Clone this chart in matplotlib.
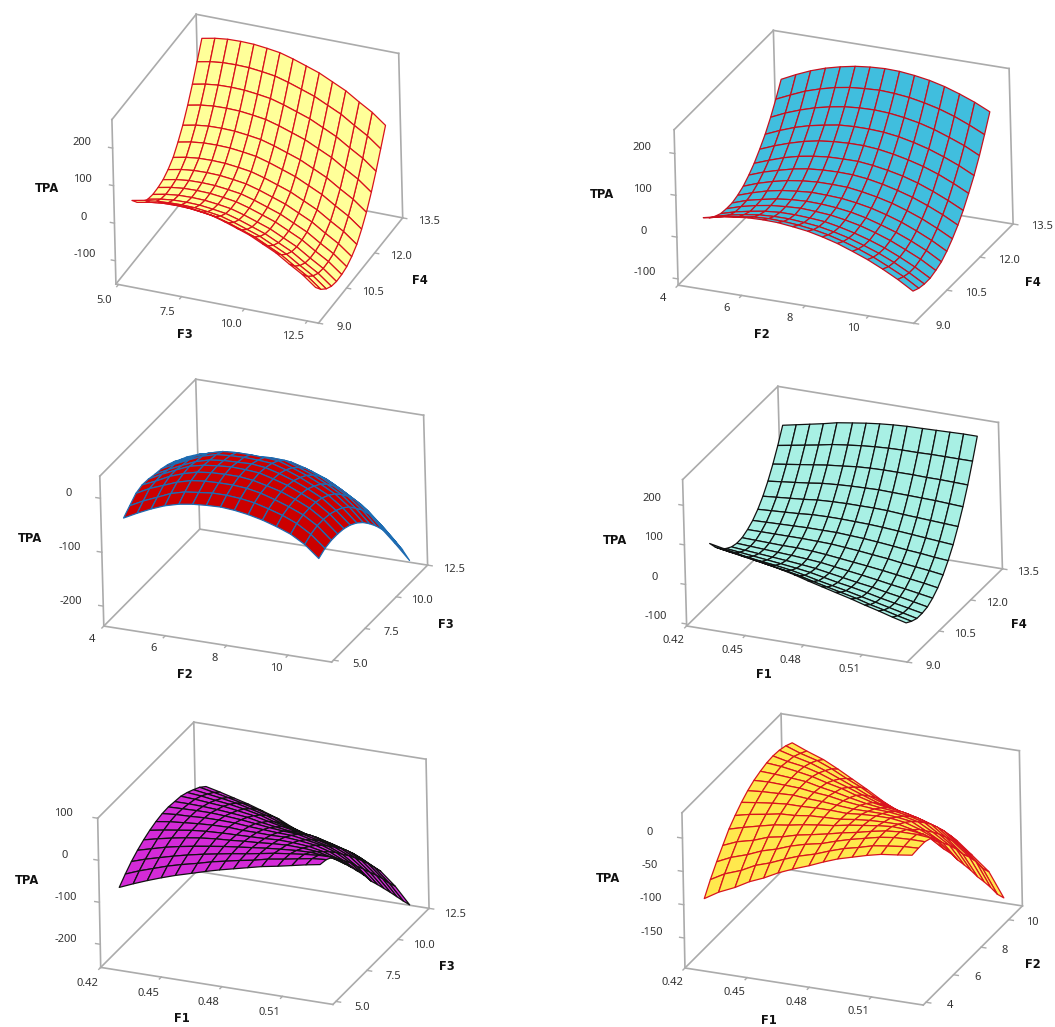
import numpy as np
import matplotlib
matplotlib.use('Agg')
import matplotlib.pyplot as plt
from mpl_toolkits.mplot3d import proj3d

plt.rcParams['font.family'] = ['Noto Sans', 'DejaVu Sans']

W, H = 1055, 1027

# Panel 1: TPA over F3 / F4
p1_x = [5.62, 6.14, 6.65, 7.17, 7.69, 8.21, 8.72, 9.24, 9.76, 10.27, 10.79, 11.31, 11.83, 12.34, 12.86]
p1_y = [9.00, 9.27, 9.55, 9.82, 10.09, 10.37, 10.64, 10.91, 11.19, 11.46, 11.73, 12.01, 12.28, 12.55, 12.83]
p1_z = [
    [70, 77, 81, 82, 81, 77, 72, 62, 50, 38, 21, 4, -19, -40, -68],
    [48, 55, 59, 60, 59, 55, 50, 40, 28, 16, -1, -18, -41, -62, -90],
    [32, 39, 43, 44, 43, 39, 34, 24, 12, 0, -17, -34, -57, -78, -106],
    [22, 29, 33, 34, 33, 29, 24, 14, 2, -10, -27, -44, -67, -88, -116],
    [18, 25, 29, 30, 29, 25, 20, 10, -2, -14, -31, -48, -71, -92, -120],
    [19, 26, 30, 31, 30, 26, 21, 11, -1, -13, -30, -47, -70, -91, -119],
    [23, 30, 34, 35, 34, 30, 25, 15, 3, -9, -26, -43, -66, -87, -115],
    [33, 40, 44, 45, 44, 40, 35, 25, 13, 1, -16, -33, -56, -77, -105],
    [48, 55, 59, 60, 59, 55, 50, 40, 28, 16, -1, -18, -41, -62, -90],
    [72, 79, 83, 84, 83, 79, 74, 64, 52, 40, 23, 6, -17, -38, -66],
    [100, 107, 111, 112, 111, 107, 102, 92, 80, 68, 51, 34, 11, -10, -38],
    [136, 143, 147, 148, 147, 143, 138, 128, 116, 104, 87, 70, 47, 26, -2],
    [175, 182, 186, 187, 186, 182, 177, 167, 155, 143, 126, 109, 86, 65, 37],
    [218, 225, 229, 230, 229, 225, 220, 210, 198, 186, 169, 152, 129, 108, 80],
    [263, 270, 274, 275, 274, 270, 265, 255, 243, 231, 214, 197, 174, 153, 125],
]

# Panel 2: TPA over F2 / F4
p2_x = [4.85, 5.32, 5.79, 6.26, 6.73, 7.20, 7.67, 8.14, 8.60, 9.07, 9.54, 10.01, 10.48, 10.95, 11.42]
p2_y = [9.00, 9.26, 9.51, 9.77, 10.03, 10.29, 10.54, 10.80, 11.06, 11.31, 11.57, 11.83, 12.09, 12.34, 12.60]
p2_z = [
    [57, 65, 70, 74, 75, 74, 70, 65, 57, 47, 34, 20, 3, -16, -38],
    [43, 52, 57, 62, 64, 63, 60, 55, 48, 38, 26, 12, -5, -23, -45],
    [33, 42, 49, 54, 56, 56, 53, 49, 42, 33, 21, 8, -8, -27, -48],
    [26, 36, 43, 49, 52, 52, 50, 47, 40, 31, 20, 7, -9, -27, -48],
    [24, 35, 43, 49, 52, 54, 52, 49, 43, 35, 24, 11, -5, -22, -43],
    [24, 36, 44, 51, 55, 57, 56, 53, 48, 40, 29, 17, 2, -15, -36],
    [29, 41, 51, 58, 62, 65, 64, 62, 57, 50, 40, 28, 13, -4, -24],
    [37, 50, 60, 68, 73, 76, 76, 75, 70, 63, 54, 42, 28, 11, -8],
    [50, 63, 73, 82, 88, 91, 92, 91, 87, 80, 71, 60, 46, 30, 11],
    [65, 78, 90, 99, 105, 109, 110, 110, 106, 100, 92, 81, 67, 51, 33],
    [85, 99, 111, 121, 128, 132, 134, 134, 131, 125, 117, 107, 94, 78, 60],
    [107, 122, 135, 145, 152, 158, 160, 160, 158, 153, 145, 135, 122, 107, 89],
    [134, 150, 163, 174, 182, 188, 191, 192, 190, 185, 178, 168, 155, 141, 123],
    [164, 180, 195, 206, 215, 221, 224, 226, 224, 220, 213, 204, 192, 177, 160],
    [198, 215, 230, 242, 251, 258, 262, 264, 263, 259, 253, 244, 232, 218, 201],
]

# Panel 3: TPA over F2 / F3
p3_x = [4.74, 5.19, 5.65, 6.10, 6.56, 7.01, 7.46, 7.92, 8.37, 8.82, 9.28, 9.73, 10.19, 10.64, 11.09]
p3_y = [4.85, 5.35, 5.86, 6.36, 6.86, 7.36, 7.87, 8.37, 8.87, 9.37, 9.88, 10.38, 10.88, 11.38, 11.89]
p3_z = [
    [-30, -17, -5, 5, 12, 16, 18, 19, 17, 13, 7, -1, -11, -26, -48],
    [-19, -6, 5, 16, 23, 26, 29, 29, 27, 23, 16, 8, -3, -19, -41],
    [-8, 5, 15, 25, 32, 35, 36, 36, 34, 29, 21, 12, 1, -15, -38],
    [-4, 7, 20, 29, 36, 39, 40, 40, 37, 31, 24, 14, 2, -15, -38],
    [-5, 8, 20, 31, 37, 40, 42, 41, 39, 32, 24, 13, 1, -17, -40],
    [-8, 5, 17, 28, 35, 38, 39, 40, 37, 30, 21, 10, -3, -22, -45],
    [-10, 3, 15, 26, 33, 35, 36, 35, 33, 25, 15, 3, -10, -29, -53],
    [-14, -3, 10, 20, 27, 29, 29, 28, 26, 17, 7, -5, -19, -39, -64],
    [-20, -10, -3, 6, 13, 14, 14, 16, 15, 6, -4, -17, -32, -53, -78],
    [-28, -18, -17, -8, -2, -1, -2, -3, 0, -7, -18, -32, -47, -68, -94],
    [-35, -33, -29, -21, -16, -16, -18, -20, -20, -25, -35, -49, -65, -87, -113],
    [-44, -42, -39, -32, -29, -31, -33, -38, -41, -46, -55, -70, -86, -109, -135],
    [-53, -52, -51, -46, -44, -48, -51, -58, -62, -68, -76, -92, -109, -133, -159],
    [-64, -62, -60, -56, -56, -60, -67, -73, -79, -90, -101, -118, -135, -159, -186],
    [-78, -76, -72, -70, -72, -78, -85, -94, -103, -116, -130, -147, -165, -190, -217],
]

# Panel 4: TPA over F1 / F4
p4_x = [0.433, 0.440, 0.447, 0.454, 0.461, 0.469, 0.476, 0.483, 0.490, 0.497, 0.505, 0.512, 0.519, 0.526, 0.533]
p4_y = [9.00, 9.25, 9.50, 9.75, 10.00, 10.25, 10.50, 10.76, 11.01, 11.26, 11.51, 11.76, 12.01, 12.26, 12.51]
p4_z = [
    [114, 107, 100, 93, 86, 78, 70, 60, 51, 42, 32, 22, 13, 3, -6],
    [92, 86, 80, 74, 68, 61, 54, 45, 37, 29, 20, 10, 2, -7, -15],
    [74, 69, 64, 59, 55, 49, 42, 34, 27, 20, 11, 3, -5, -13, -21],
    [62, 58, 54, 50, 46, 41, 36, 29, 22, 16, 8, 0, -7, -14, -21],
    [53, 50, 47, 44, 41, 37, 33, 27, 21, 15, 9, 2, -4, -11, -18],
    [49, 47, 45, 43, 41, 38, 35, 30, 25, 20, 14, 8, 3, -3, -9],
    [50, 49, 48, 47, 47, 45, 42, 38, 34, 30, 25, 20, 15, 10, 4],
    [57, 57, 57, 57, 57, 56, 55, 52, 49, 45, 41, 36, 32, 28, 23],
    [67, 68, 69, 70, 71, 71, 71, 69, 67, 64, 60, 56, 53, 49, 46],
    [82, 84, 86, 88, 91, 92, 92, 91, 90, 88, 85, 82, 79, 76, 73],
    [102, 105, 108, 111, 115, 117, 118, 118, 118, 117, 114, 112, 110, 108, 106],
    [127, 131, 135, 139, 144, 147, 149, 150, 151, 150, 149, 148, 147, 145, 143],
    [157, 162, 167, 172, 177, 181, 185, 187, 188, 188, 188, 187, 187, 186, 185],
    [191, 197, 203, 209, 216, 221, 225, 228, 230, 231, 231, 232, 232, 232, 232],
    [229, 236, 243, 250, 258, 264, 269, 273, 276, 278, 279, 280, 281, 282, 282],
]

# Panel 5: TPA over F1 / F3
p5_x = [0.430, 0.437, 0.444, 0.451, 0.458, 0.466, 0.473, 0.480, 0.487, 0.494, 0.501, 0.509, 0.516, 0.523, 0.530]
p5_y = [4.76, 5.26, 5.76, 6.26, 6.76, 7.26, 7.76, 8.27, 8.77, 9.27, 9.77, 10.27, 10.77, 11.27, 11.77]
p5_z = [
    [-57, -43, -30, -18, -7, 4, 14, 23, 31, 39, 47, 54, 61, 68, 74],
    [-40, -27, -16, -5, 4, 13, 22, 29, 36, 42, 50, 56, 62, 68, 71],
    [-25, -14, -5, 4, 12, 20, 26, 32, 37, 43, 49, 54, 58, 61, 62],
    [-13, -4, 5, 12, 18, 24, 29, 33, 37, 41, 44, 47, 48, 45, 40],
    [-3, 5, 12, 18, 23, 27, 29, 32, 34, 37, 39, 38, 35, 27, 16],
    [5, 11, 16, 21, 24, 26, 27, 28, 29, 31, 30, 27, 20, 9, -7],
    [11, 16, 19, 22, 24, 25, 23, 23, 22, 23, 20, 15, 5, -11, -31],
    [15, 18, 19, 21, 21, 20, 17, 15, 13, 12, 7, 0, -12, -31, -56],
    [16, 17, 18, 18, 16, 13, 9, 5, 2, 0, -8, -17, -31, -54, -84],
    [14, 14, 13, 11, 8, 4, -3, -8, -13, -16, -24, -34, -49, -75, -107],
    [12, 10, 7, 4, -1, -7, -15, -22, -28, -32, -42, -52, -69, -97, -131],
    [6, 3, -2, -6, -12, -20, -31, -39, -47, -52, -61, -72, -90, -119, -155],
    [-2, -7, -12, -18, -26, -36, -48, -58, -67, -74, -83, -94, -112, -142, -180],
    [-11, -18, -25, -33, -42, -53, -68, -79, -90, -97, -107, -118, -136, -167, -205],
    [-24, -32, -41, -50, -61, -74, -90, -103, -115, -124, -133, -143, -160, -190, -229],
]

# Panel 6: TPA over F1 / F2
p6_x = [0.430, 0.437, 0.445, 0.452, 0.459, 0.466, 0.473, 0.481, 0.488, 0.495, 0.502, 0.509, 0.516, 0.524, 0.531]
p6_y = [3.80, 4.26, 4.73, 5.19, 5.65, 6.11, 6.58, 7.04, 7.50, 7.97, 8.43, 8.89, 9.35, 9.82, 10.28]
p6_z = [
    [-86, -73, -62, -50, -41, -30, -21, -12, -3, 5, 11, 17, 22, 25, 28],
    [-67, -55, -46, -35, -28, -19, -11, -4, 4, 11, 16, 22, 25, 28, 29],
    [-50, -40, -32, -23, -17, -9, -3, 2, 9, 15, 20, 25, 28, 29, 29],
    [-35, -26, -20, -12, -8, -2, 2, 7, 12, 16, 21, 25, 27, 27, 25],
    [-20, -14, -8, -3, 0, 4, 7, 10, 14, 17, 20, 22, 21, 18, 10],
    [-9, -4, 0, 4, 5, 8, 9, 10, 13, 15, 16, 16, 11, 3, -11],
    [1, 4, 7, 9, 9, 10, 10, 9, 11, 12, 12, 9, 2, -9, -27],
    [9, 11, 12, 13, 11, 10, 8, 6, 6, 6, 4, 1, -10, -24, -46],
    [15, 16, 15, 14, 11, 9, 5, 2, 0, -1, -4, -9, -21, -37, -63],
    [19, 18, 16, 14, 9, 5, 0, -5, -8, -10, -14, -20, -34, -52, -81],
    [22, 20, 16, 12, 6, 1, -6, -13, -17, -20, -25, -32, -48, -69, -100],
    [23, 18, 14, 8, 0, -7, -15, -24, -29, -33, -39, -46, -63, -83, -117],
    [22, 16, 10, 2, -7, -16, -26, -35, -42, -48, -54, -61, -79, -99, -135],
    [19, 11, 4, -5, -16, -26, -38, -49, -57, -64, -70, -78, -96, -119, -155],
    [14, 5, -4, -15, -27, -39, -52, -65, -74, -82, -88, -95, -113, -134, -170],
]

# corners are A front-left, B front-right, C back-right, D back-left (floor),
# H above A, T above D, U above C, all in image pixels
panels = [
    dict(x=p1_x, y=p1_y, z=p1_z, fill='#FFFF99', edge='#D9101C',
         xlim=(4.9, 12.94), ylim=(9, 13.5), zlim=(-162, 276),
         xticks=[5, 7.5, 10, 12.5], xlabels=['5.0', '7.5', '10.0', '12.5'],
         yticks=[9, 10.5, 12, 13.5], ylabels=['9.0', '10.5', '12.0', '13.5'],
         zticks=[200, 100, 0, -100], zlabels=['200', '100', '0', '-100'],
         A=(115, 283), B=(317, 322), C=(405, 218), D=(199, 178),
         H=(111, 119), T=(197, 16), U=(400, 55),
         names=('F3', 'F4'), tpa=(47, 188), xname=(185, 335), yname=(420, 280),
         zoff=(-31, 6), xoff=(-14, -16), yoff=(26, -4)),
    dict(x=p2_x, y=p2_y, z=p2_z, fill='#40BEDE', edge='#C8101E',
         xlim=(4, 11.42), ylim=(9, 13.5), zlim=(-115, 257),
         xticks=[4, 6, 8, 10], xlabels=['4', '6', '8', '10'],
         yticks=[9, 10.5, 12, 13.5], ylabels=['9.0', '10.5', '12.0', '13.5'],
         zticks=[200, 100, 0, -100], zlabels=['200', '100', '0', '-100'],
         A=(678, 285), B=(913, 323), C=(1013, 224), D=(777, 186),
         H=(674, 130), T=(774, 31), U=(1010, 68),
         names=('F2', 'F4'), tpa=(602, 195), xname=(762, 334), yname=(1033, 283),
         zoff=(-33, 6), xoff=(-15, -13), yoff=(29, -3)),
    dict(x=p3_x, y=p3_y, z=p3_z, fill='#CC0000', edge='#1C6DB4',
         xlim=(4, 11.42), ylim=(4.85, 12.5), zlim=(-237, 41),
         xticks=[4, 6, 8, 10], xlabels=['4', '6', '8', '10'],
         yticks=[5, 7.5, 10, 12.5], ylabels=['5.0', '7.5', '10.0', '12.5'],
         zticks=[0, -100, -200], zlabels=['0', '-100', '-200'],
         A=(104, 626), B=(332, 662), C=(427, 567), D=(200, 529),
         H=(100, 476), T=(196, 378), U=(423, 415),
         names=('F2', 'F3'), tpa=(30, 538), xname=(185, 674), yname=(446, 624),
         zoff=(-32, 5), xoff=(-12, -13), yoff=(26, -4)),
    dict(x=p4_x, y=p4_y, z=p4_z, fill='#A8F0E4', edge='#111111',
         xlim=(0.42, 0.533), ylim=(9, 13.5), zlim=(-105, 265),
         xticks=[0.42, 0.45, 0.48, 0.51], xlabels=['0.42', '0.45', '0.48', '0.51'],
         yticks=[9, 10.5, 12, 13.5], ylabels=['9.0', '10.5', '12.0', '13.5'],
         zticks=[200, 100, 0, -100], zlabels=['200', '100', '0', '-100'],
         A=(687, 626), B=(907, 662), C=(1003, 569), D=(782, 533),
         H=(683, 480), T=(777, 387), U=(998, 421),
         names=('F1', 'F4'), tpa=(615, 541), xname=(764, 674), yname=(1019, 624),
         zoff=(-31, 7), xoff=(-13, -15), yoff=(26, -4)),
    dict(x=p5_x, y=p5_y, z=p5_z, fill='#D42AD8', edge='#111111',
         xlim=(0.42, 0.535), ylim=(4.76, 12.5), zlim=(-255, 100),
         xticks=[0.42, 0.45, 0.48, 0.51], xlabels=['0.42', '0.45', '0.48', '0.51'],
         yticks=[5, 7.5, 10, 12.5], ylabels=['5.0', '7.5', '10.0', '12.5'],
         zticks=[100, 0, -100, -200], zlabels=['100', '0', '-100', '-200'],
         A=(101, 968), B=(333, 1005), C=(428, 909), D=(197, 872),
         H=(98, 819), T=(195, 721), U=(425, 757),
         names=('F1', 'F3'), tpa=(27, 881), xname=(182, 1019), yname=(447, 967),
         zoff=(-34, 5), xoff=(-13, -16), yoff=(26, -6)),
    dict(x=p6_x, y=p6_y, z=p6_z, fill='#FFE84D', edge='#D8141E',
         xlim=(0.42, 0.535), ylim=(3.8, 11), zlim=(-195, 38),
         xticks=[0.42, 0.45, 0.48, 0.51], xlabels=['0.42', '0.45', '0.48', '0.51'],
         yticks=[4, 6, 8, 10], ylabels=['4', '6', '8', '10'],
         zticks=[0, -50, -100, -150], zlabels=['0', '-50', '-100', '-150'],
         A=(685, 968), B=(923, 1005), C=(1022, 907), D=(784, 869),
         H=(682, 813), T=(782, 713), U=(1019, 750),
         names=('F1', 'F2'), tpa=(608, 878), xname=(769, 1020), yname=(1033, 964),
         zoff=(-33, 6), xoff=(-13, -15), yoff=(24, -3)),
]

BOX = '#ABABAB'
TICKTEXT = '#333333'


def camera(p):
    # work out elev/azim/roll and box aspect from the box edges seen in the picture
    a = np.array(p['A'], float)
    ex = (np.array(p['B']) - a) * [1, -1]
    ey = (np.array(p['D']) - a) * [1, -1]
    ez = (np.array(p['H']) - a) * [1, -1]
    t = np.arctan2(-ez[0], ez[1])
    rot = np.array([[np.cos(t), np.sin(t)], [-np.sin(t), np.cos(t)]])
    ex, ey, ez = rot @ ex, rot @ ey, rot @ ez
    ra = abs(ex[1] / ex[0])
    rb = abs(ey[1] / ey[0])
    elev = np.arcsin(np.sqrt(ra * rb))
    azim = np.arctan(np.sqrt(rb / ra))
    aspect = (ex[0] / np.sin(azim), ey[0] / np.cos(azim), ez[1] / np.cos(elev))
    return np.degrees(elev), -np.degrees(azim), np.degrees(t), aspect


def to_frac(ax, x, y, z):
    xp, yp, _ = proj3d.proj_transform(x, y, z, ax.get_proj())
    disp = ax.transData.transform(np.column_stack([np.atleast_1d(xp), np.atleast_1d(yp)]))
    return ax.transAxes.inverted().transform(disp)


fig = plt.figure(figsize=(W / 100, H / 100), dpi=100)

for p in panels:
    ax = fig.add_subplot(projection='3d', computed_zorder=False)
    ax.patch.set_visible(False)
    ax.set_axis_off()
    ax.set_proj_type('ortho')
    elev, azim, roll, aspect = camera(p)
    ax.view_init(elev=elev, azim=azim, roll=roll)
    ax.set_box_aspect(aspect)
    ax.set_xlim(*p['xlim'], view_margin=0)
    ax.set_ylim(*p['ylim'], view_margin=0)
    ax.set_zlim(*p['zlim'], view_margin=0)

    x0, x1 = p['xlim']
    y0, y1 = p['ylim']
    z0, z1 = p['zlim']

    # place the axes so that the box lands on the corners seen in the picture
    cx = np.array([x0, x1, x1, x0, x0, x0, x1])
    cy = np.array([y0, y0, y1, y1, y0, y1, y1])
    cz = np.array([z0, z0, z0, z0, z1, z1, z1])
    uv = to_frac(ax, cx, cy, cz)
    target = np.array([p[k] for k in 'ABCDHTU'], float)
    target[:, 1] = H - target[:, 1]
    du = uv - uv.mean(axis=0)
    dt = target - target.mean(axis=0)
    side = (du * dt).sum() / (du * du).sum()
    left, bottom = target.mean(axis=0) - side * uv.mean(axis=0)
    ax.set_position([left / W, bottom / H, side / W, side / H])

    # box outline, behind the surface
    edges = [(0, 1), (1, 2), (2, 3), (3, 0), (0, 4), (4, 5), (5, 3), (5, 6), (6, 2)]
    for i, j in edges:
        ax.plot([cx[i], cx[j]], [cy[i], cy[j]], [cz[i], cz[j]], color=BOX, lw=1.2, zorder=1)

    X, Y = np.meshgrid(p['x'], p['y'])
    ax.plot_surface(X, Y, np.array(p['z'], float), rstride=1, cstride=1, color=p['fill'],
                    edgecolor=p['edge'], linewidth=0.9, shade=False, zorder=2)

    # ticks and their labels
    dx = (x1 - x0) * 0.02
    dy = (y1 - y0) * 0.02
    for v, s in zip(p['zticks'], p['zlabels']):
        ax.plot([x0, x0 - dx], [y0, y0], [v, v], color=BOX, lw=1, zorder=1)
        xp, yp, _ = proj3d.proj_transform(x0, y0, v, ax.get_proj())
        ax.annotate(s, (xp, yp), xytext=p['zoff'], textcoords='offset pixels', ha='center',
                    va='center', fontsize=8, color=TICKTEXT, annotation_clip=False)
    for v, s in zip(p['xticks'], p['xlabels']):
        ax.plot([v, v], [y0, y0 - dy], [z0, z0], color=BOX, lw=1, zorder=1)
        xp, yp, _ = proj3d.proj_transform(v, y0, z0, ax.get_proj())
        ax.annotate(s, (xp, yp), xytext=p['xoff'], textcoords='offset pixels', ha='center',
                    va='center', fontsize=8, color=TICKTEXT, annotation_clip=False)
    for v, s in zip(p['yticks'], p['ylabels']):
        ax.plot([x1, x1 + dx], [v, v], [z0, z0], color=BOX, lw=1, zorder=1)
        xp, yp, _ = proj3d.proj_transform(x1, v, z0, ax.get_proj())
        ax.annotate(s, (xp, yp), xytext=p['yoff'], textcoords='offset pixels', ha='center',
                    va='center', fontsize=8, color=TICKTEXT, annotation_clip=False)

    # axis titles
    for s, pos in [('TPA', p['tpa']), (p['names'][0], p['xname']), (p['names'][1], p['yname'])]:
        fig.text(pos[0] / W, 1 - pos[1] / H, s, ha='center', va='center', fontsize=8.3,
                 fontweight='bold', family='DejaVu Sans', color='#111111')

fig.savefig('out.png', dpi=100)
